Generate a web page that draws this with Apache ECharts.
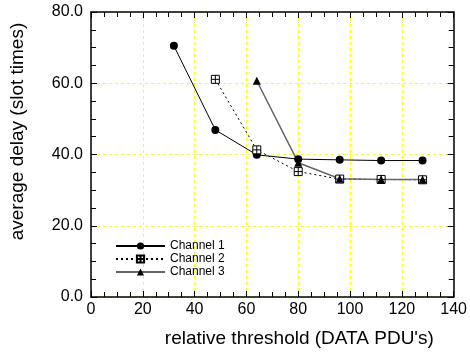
<!DOCTYPE html>
<html>
<head>
<meta charset="utf-8">
<script src="https://cdn.jsdelivr.net/npm/echarts@6/dist/echarts.min.js"></script>
<style>
  html, body { margin: 0; padding: 0; background: #fff; }
  #chart { width: 470px; height: 354px; }
</style>
</head>
<body>
<div id="chart"></div>
<script>
// Relative threshold values (DATA PDU's)
const thresholds1 = [32, 48, 64, 80, 96, 112, 128];
const thresholds2 = [48, 64, 80, 96, 112, 128];
const thresholds3 = [64, 80, 96, 112, 128];

// Average delay in slot times per channel
const channel1 = [70.5, 46.9, 39.9, 38.7, 38.5, 38.3, 38.3];
const channel2 = [61.1, 41.3, 35.2, 33.1, 33.0, 32.9];
const channel3 = [60.7, 37.7, 33.2, 33.0, 33.0];

const seriesNames = ['Channel 1', 'Channel 2', 'Channel 3'];
const xTicks = [0, 20, 40, 60, 80, 100, 120, 140];
const yTicks = [0, 20, 40, 60, 80];

const pair = (xs, ys) => xs.map((x, i) => [x, ys[i]]);
const font = '"Liberation Sans", Arial, sans-serif';
const gridLine = { show: true, lineStyle: { color: '#ffff00', type: [3, 3], width: 1 } };
const boxSymbol = 'path://M0,0H10V10H0Z M5,0V10 M0,5H10';
const frame = { show: true, onZero: false, lineStyle: { color: '#000', width: 1.5 } };
const ticks = { show: true, inside: true, length: 6, lineStyle: { color: '#000' } };
const minor = { show: true, splitNumber: 4, length: 5, lineStyle: { color: '#000' } };

const chart = echarts.init(document.getElementById('chart'));
chart.setOption({
  animation: false,
  backgroundColor: '#fff',
  textStyle: { fontFamily: font },
  grid: { left: 90, top: 12, right: 13, bottom: 57, show: false },
  legend: {
    orient: 'vertical',
    left: 110,
    top: 235,
    itemWidth: 49,
    itemHeight: 9,
    itemGap: 1,
    data: seriesNames,
    textStyle: { fontFamily: font, fontSize: 12, color: '#000' }
  },
  xAxis: [{
    type: 'value',
    min: xTicks[0], max: xTicks[xTicks.length - 1], interval: 20,
    name: "relative threshold (DATA PDU's)",
    nameLocation: 'middle', nameGap: 32,
    nameTextStyle: { fontFamily: font, fontSize: 19, color: '#000', padding: [0, 0, 0, 54] },
    axisLine: frame,
    axisTick: ticks,
    minorTick: minor,
    axisLabel: { fontFamily: font, fontSize: 16, color: '#000', margin: 5 },
    splitLine: gridLine
  }, {
    type: 'value', position: 'top',
    min: xTicks[0], max: xTicks[xTicks.length - 1], interval: 20,
    axisLine: frame,
    axisTick: ticks,
    minorTick: minor,
    axisLabel: { show: false },
    splitLine: { show: false }
  }],
  yAxis: [{
    type: 'value',
    min: yTicks[0], max: yTicks[yTicks.length - 1], interval: 20,
    name: 'average delay (slot times)',
    nameLocation: 'middle', nameGap: 64,
    nameTextStyle: { fontFamily: font, fontSize: 19, color: '#000', padding: [0, 0, 0, 46] },
    axisLine: frame,
    axisTick: ticks,
    minorTick: minor,
    axisLabel: { fontFamily: font, fontSize: 16, color: '#000', margin: 8,
      formatter: v => v.toFixed(1) },
    splitLine: gridLine
  }, {
    type: 'value', position: 'right',
    min: yTicks[0], max: yTicks[yTicks.length - 1], interval: 20,
    axisLine: frame,
    axisTick: ticks,
    minorTick: minor,
    axisLabel: { show: false },
    splitLine: { show: false }
  }],
  series: [{
    name: seriesNames[0],
    type: 'line',
    data: pair(thresholds1, channel1),
    symbol: 'circle', symbolSize: 8,
    itemStyle: { color: '#000' },
    lineStyle: { color: '#000', width: 1 }
  }, {
    name: seriesNames[1],
    type: 'line',
    data: pair(thresholds2, channel2),
    symbol: boxSymbol, symbolSize: 8,
    itemStyle: { color: '#fff', borderColor: '#000', borderWidth: 1 },
    lineStyle: { color: '#000', width: 1, type: [2, 3] }
  }, {
    name: seriesNames[2],
    type: 'line',
    data: pair(thresholds3, channel3),
    symbol: 'triangle', symbolSize: 8,
    itemStyle: { color: '#000' },
    lineStyle: { color: '#666', width: 1.5 }
  }]
});
</script>
</body>
</html>
